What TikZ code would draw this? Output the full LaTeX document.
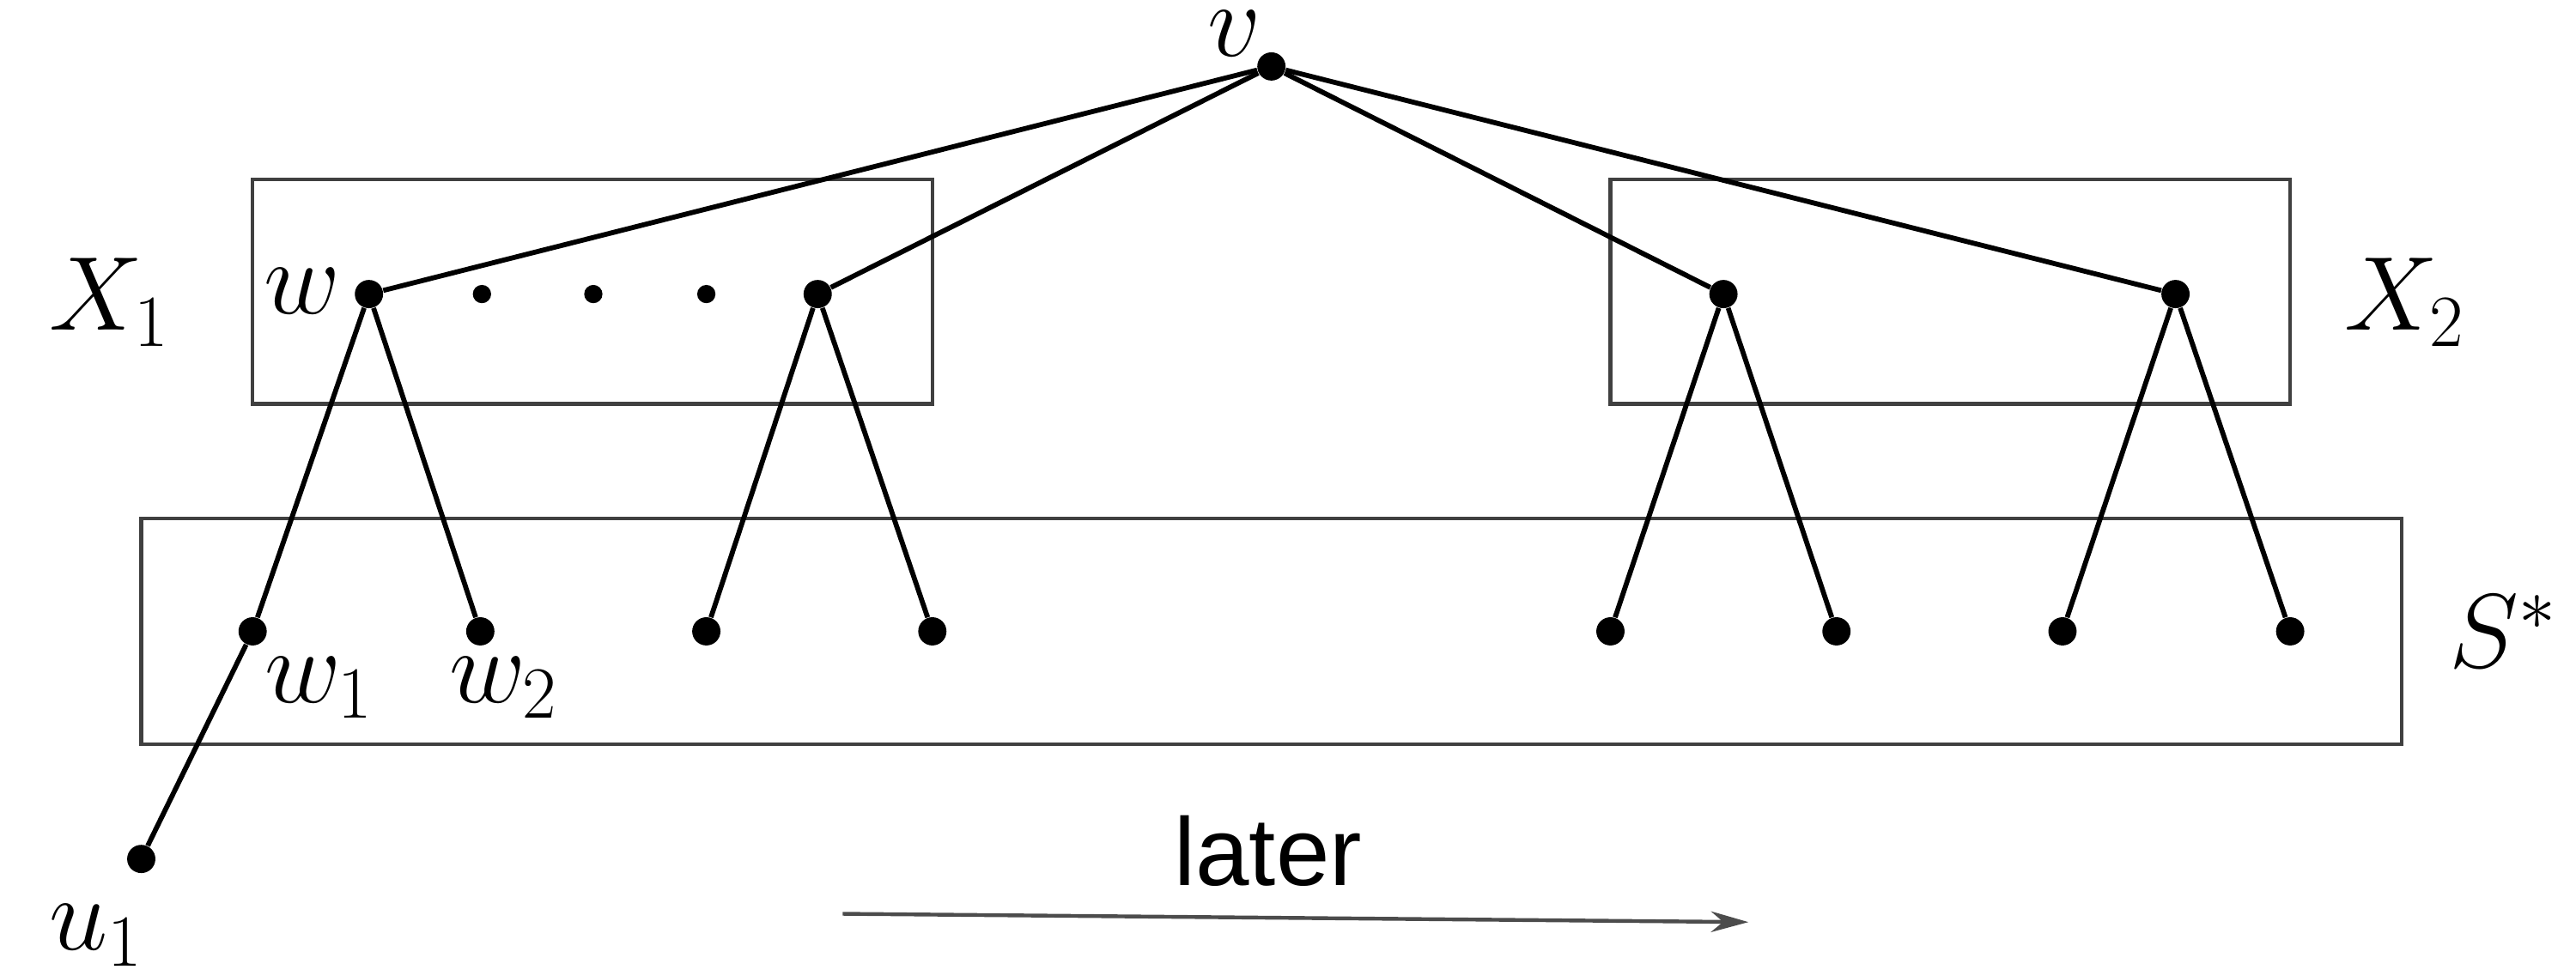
\RequirePackage{fix-cm}
\documentclass[tikz,border=0pt]{standalone}
\usepackage{amsmath}
\usepackage{fontspec}
\newfontfamily\helv{Liberation Sans}
\usetikzlibrary{arrows.meta}
\begin{document}
\begin{tikzpicture}[x=0.02cm,y=-0.02cm,
  vtx/.style={circle,fill=black,inner sep=0pt,minimum size=0.34cm},
  edge/.style={line width=1.7pt},
  box/.style={draw=black!75,line width=1.3pt},
  lab/.style={font=\fontsize{36}{42}\selectfont}]
\useasboundingbox (0,0) rectangle (1550,587);

% The boxes X_1, X_2 and S^*
\draw[box] (152,108) rectangle (561,243);
\draw[box] (969,108) rectangle (1378,243);
\draw[box] (85,312) rectangle (1445,448);

% The vertices
\node[vtx] (v) at (765,40) {};
\node[vtx] (w) at (222,177) {};
\node[vtx] (a) at (492,177) {};
\node[vtx] (b) at (1037,177) {};
\node[vtx] (c) at (1309,177) {};
\node[vtx] (w1) at (152,380) {};
\node[vtx] (w2) at (289,380) {};
\node[vtx] (a1) at (425,380) {};
\node[vtx] (a2) at (561,380) {};
\node[vtx] (b1) at (969,380) {};
\node[vtx] (b2) at (1105,380) {};
\node[vtx] (c1) at (1241,380) {};
\node[vtx] (c2) at (1378,380) {};
\node[vtx] (u1) at (85,517) {};
\foreach \x in {290,357,425} \fill (\x,177) circle (0.11cm);

% The edges
\foreach \s/\t in {v/w,v/a,v/b,v/c,w/w1,w/w2,a/a1,a/a2,b/b1,b/b2,c/c1,c/c2,w1/u1}
  \draw[edge] (\s) -- (\t);

% The labels
\node[lab,inner sep=0pt] at (743,20) {$v$};
\node[lab] at (182,175) {$w$};
\node[lab] at (66,182) {$X_1$};
\node[lab] at (1447,182) {$X_2$};
\node[lab] at (1506,380) {$S^*$};
\node[lab] at (192,414) {$w_1$};
\node[lab] at (303,414) {$w_2$};
\node[lab] at (58,563) {$u_1$};

% The time arrow
\node[font=\fontsize{33}{40}\selectfont\helv] (later) at (763,512) {later};
\coordinate (s) at (507,550);
\coordinate (e) at (1052,555);
\draw[black!70,line width=1.3pt,-{Stealth[length=0.45cm,width=0.25cm]}] (s) -- (e);
\end{tikzpicture}
\end{document}
